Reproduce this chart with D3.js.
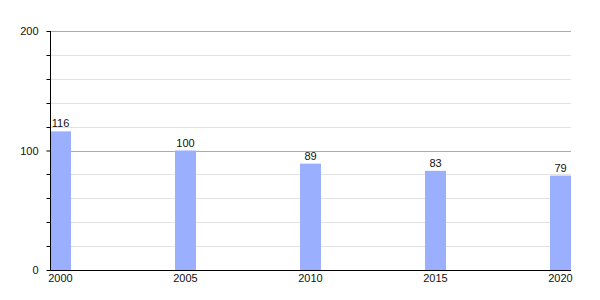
<!DOCTYPE html>
<html>
<head>
<meta charset="utf-8">
<script src="https://cdn.jsdelivr.net/npm/d3@7"></script>
<style>
  body { margin: 0; background: #fff; }
  text { font-family: "Liberation Sans", Arial, sans-serif; }
</style>
</head>
<body>
<div id="chart"></div>
<script>
const years = [2000, 2005, 2010, 2015, 2020];
const values = [116, 100, 89, 83, 79];
const majorTicks = [0, 100, 200];
const minorTicks = [20, 40, 60, 80, 120, 140, 160, 180];

const width = 600, height = 300;
const margin = { top: 31, right: 29, bottom: 30, left: 50 };
const barWidth = 21;

const svg = d3.select("#chart").append("svg").attr("width", width).attr("height", height);

const x = d3.scaleLinear().domain([2000, 2020]).range([margin.left, width - margin.right - barWidth]);
const y = d3.scaleLinear().domain([0, 200]).range([height - margin.bottom, margin.top]);

// grid
svg.append("g").selectAll("line").data(minorTicks).join("line")
  .attr("x1", margin.left).attr("x2", width - margin.right)
  .attr("y1", (d) => Math.round(y(d)) + 0.5).attr("y2", (d) => Math.round(y(d)) + 0.5)
  .attr("stroke", "#e2e2e2");
svg.append("g").selectAll("line").data(majorTicks.filter((d) => d > 0)).join("line")
  .attr("x1", margin.left).attr("x2", width - margin.right)
  .attr("y1", (d) => Math.round(y(d)) + 0.5).attr("y2", (d) => Math.round(y(d)) + 0.5)
  .attr("stroke", "#ababab");

// bars
svg.append("g").selectAll("rect").data(values).join("rect")
  .attr("x", (d, i) => x(years[i])).attr("width", barWidth)
  .attr("y", (d) => y(d)).attr("height", (d) => y(0) - y(d))
  .attr("fill", "#9ab0ff");

svg.append("g").selectAll("text").data(values).join("text")
  .attr("x", (d, i) => x(years[i]) + barWidth / 2).attr("y", (d) => y(d) - 4)
  .attr("text-anchor", "middle").attr("font-size", 11).attr("fill", "#111")
  .text((d) => d);

// y axis
const yAxis = svg.append("g").attr("transform", `translate(${margin.left + 0.5},0)`);
yAxis.call(d3.axisLeft(y).tickValues(majorTicks).tickSize(4).tickPadding(8).tickFormat(d3.format("d")));
yAxis.select(".domain").remove();
yAxis.selectAll(".tick text").attr("font-size", 11).attr("fill", "#111").attr("font-family", null);
yAxis.selectAll(".tick line").attr("stroke", "#000");
yAxis.append("g").selectAll("line").data(minorTicks).join("line")
  .attr("x1", -4).attr("x2", 0).attr("y1", (d) => Math.round(y(d)) + 0.5).attr("y2", (d) => Math.round(y(d)) + 0.5)
  .attr("stroke", "#000");
svg.append("line").attr("x1", margin.left + 0.5).attr("x2", margin.left + 0.5)
  .attr("y1", y(200)).attr("y2", y(0)).attr("stroke", "#000");

// x axis
svg.append("line").attr("x1", margin.left).attr("x2", width - margin.right)
  .attr("y1", y(0) + 0.5).attr("y2", y(0) + 0.5).attr("stroke", "#000");
svg.append("g").selectAll("text").data(years).join("text")
  .attr("x", (d) => x(d) + barWidth / 2).attr("y", y(0) + 12)
  .attr("text-anchor", "middle").attr("font-size", 11).attr("fill", "#111")
  .text((d) => d);
</script>
</body>
</html>
